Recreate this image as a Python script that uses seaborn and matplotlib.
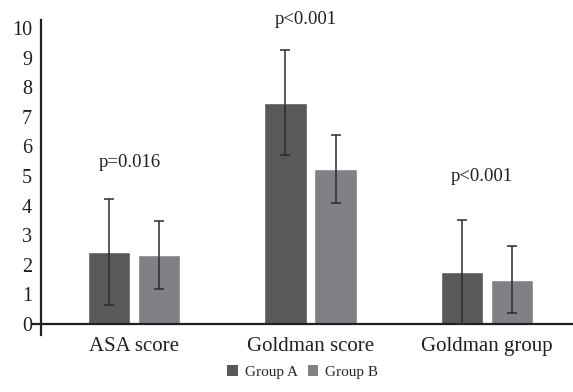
import matplotlib
matplotlib.use("Agg")
import matplotlib.pyplot as plt
import seaborn as sns
import pandas as pd

categories = ["ASA score", "Goldman score", "Goldman group"]
groups = ["Group A", "Group B"]
group_a_mean = [2.43, 7.47, 1.76]
group_a_sd = [1.80, 1.77, 1.77]
group_b_mean = [2.33, 5.24, 1.49]
group_b_sd = [1.14, 1.15, 1.13]
p_labels = ["p=0.016", "p<0.001", "p<0.001"]
p_label_y = [5.44, 10.27, 4.97]
y_ticks = list(range(0, 11))

colors = ["#58595b", "#808184"]

sns.set_style("white")
plt.rcParams["font.family"] = ["Liberation Serif", "DejaVu Serif"]

df = pd.DataFrame({
    "category": categories * 2,
    "group": [groups[0]] * 3 + [groups[1]] * 3,
    "value": group_a_mean + group_b_mean,
})
sds = [group_a_sd, group_b_sd]

fig = plt.figure(figsize=(5.73, 3.92), dpi=100)
ax = fig.add_axes([33 / 573, 57 / 392, 540 / 573, 315 / 392])

sns.barplot(data=df, x="category", y="value", hue="group", order=categories,
            hue_order=groups, palette=colors, width=0.568, gap=0.158,
            errorbar=None, saturation=1, ax=ax, legend=False)

for cont, sd in zip(ax.containers, sds):
    xs = [b.get_x() + b.get_width() / 2 for b in cont]
    ys = [b.get_height() for b in cont]
    ax.errorbar(xs, ys, yerr=sd, fmt="none", ecolor="#2b2b2b",
                elinewidth=1.1, capsize=3.3, capthick=1.1, zorder=5)

for i, (lab, yy) in enumerate(zip(p_labels, p_label_y)):
    ax.text(i - 0.025, yy, lab, ha="center", va="center", fontsize=13.5,
            color="#231f20", clip_on=False)

ax.set_xlim(-0.575, 2.49)
ax.set_ylim(-0.37, 10.27)
ax.set_yticks(y_ticks)
ax.set_yticklabels([str(t) for t in y_ticks])
ax.set_xlabel("")
ax.set_ylabel("")

for s in ["top", "right"]:
    ax.spines[s].set_visible(False)
ax.spines["left"].set_position(("data", -0.53))
ax.spines["bottom"].set_position(("data", 0))
for s in ["left", "bottom"]:
    ax.spines[s].set_linewidth(1.6)
    ax.spines[s].set_color("#231f20")

ax.tick_params(axis="y", length=0, pad=6.5, labelsize=14.5, labelcolor="#231f20")
ax.tick_params(axis="x", length=0, pad=9, labelsize=15, labelcolor="#231f20")

handles = [plt.Rectangle((0, 0), 1, 1, facecolor=c, edgecolor="none") for c in colors]
fig.legend(handles, groups, loc="center", bbox_to_anchor=(0.528, 0.051), ncol=2,
           frameon=False, fontsize=11, handlelength=0.7, handleheight=0.7,
           handletextpad=0.45, columnspacing=0.65, borderpad=0)

fig.savefig("out.png", dpi=100, facecolor="white")
